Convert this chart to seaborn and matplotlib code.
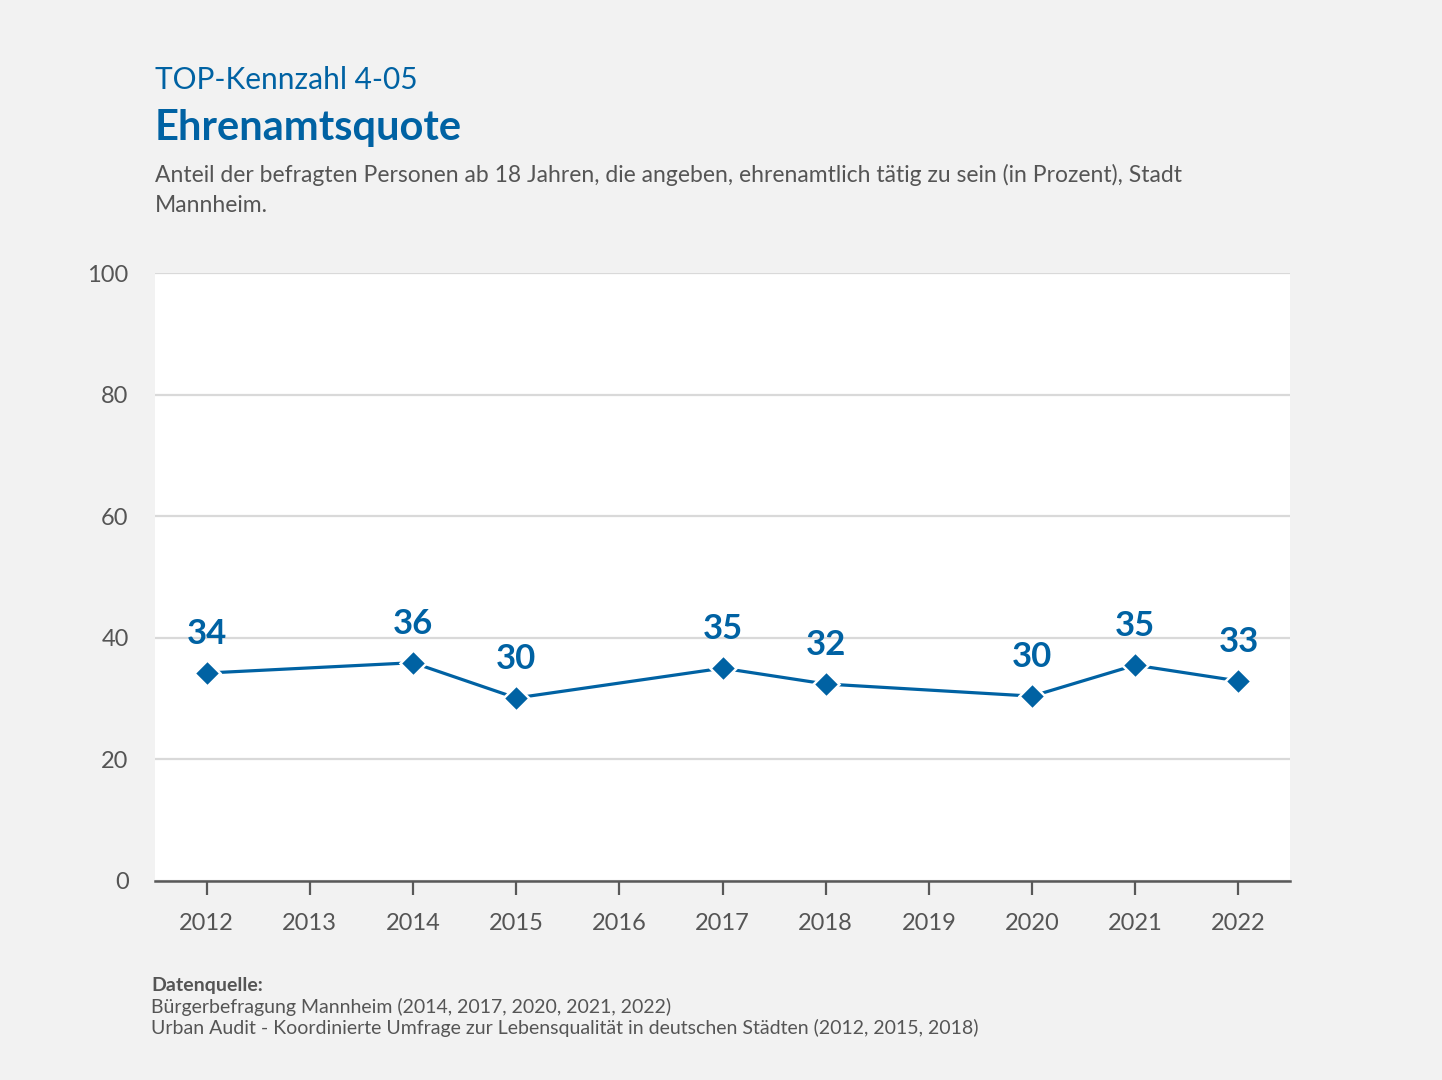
import matplotlib
matplotlib.use("Agg")
import matplotlib.pyplot as plt
import seaborn as sns
import pandas as pd

# data
years = [2012, 2014, 2015, 2017, 2018, 2020, 2021, 2022]
quote = [34.2, 35.9, 30.1, 35.0, 32.4, 30.4, 35.5, 32.9]
labels = ["34", "36", "30", "35", "32", "30", "35", "33"]
tick_years = list(range(2012, 2023))
y_ticks = [0, 20, 40, 60, 80, 100]

blue = "#0062a3"
grey_text = "#555555"
bg = "#f2f2f2"

sns.set_style("white")
plt.rcParams['font.family'] = ['Lato', 'DejaVu Sans']

df = pd.DataFrame({"Jahr": years, "Quote": quote})

fig = plt.figure(figsize=(14.42, 10.8), dpi=100, facecolor=bg)
ax = fig.add_axes([0.1075, 0.1843, 0.7871, 0.5629])
ax.set_facecolor("white")

sns.lineplot(data=df, x="Jahr", y="Quote", ax=ax, color=blue, linewidth=2.3,
             marker="D", markersize=13, markeredgecolor="white",
             markeredgewidth=1.8, zorder=3)

for x, y, t in zip(years, quote, labels):
    ax.annotate(t, (x, y), xytext=(0, 28), textcoords="offset points",
                ha="center", va="center", fontsize=25, fontweight="bold",
                color=blue, zorder=4)

ax.set_xlim(2011.5, 2022.5)
ax.set_ylim(0, 100)
ax.set_xticks(tick_years)
ax.set_xticklabels([str(y) for y in tick_years])
ax.set_yticks(y_ticks)
ax.set_xlabel("")
ax.set_ylabel("")

ax.yaxis.grid(True, color="#d9d9d9", linewidth=1.6)
ax.xaxis.grid(False)
for side in ["top", "right", "left"]:
    ax.spines[side].set_visible(False)
ax.spines["bottom"].set_color("#595959")
ax.spines["bottom"].set_linewidth(1.8)
ax.spines["bottom"].set_zorder(5)

ax.tick_params(axis="x", length=10, width=1.6, color="#595959", pad=13,
               labelsize=17, labelcolor=grey_text, bottom=True)
ax.tick_params(axis="y", length=0, pad=19, labelsize=17, labelcolor=grey_text)

# header
fig.text(155 / 1442, 1 - 80 / 1080, "TOP-Kennzahl 4-05", fontsize=21.5,
         color=blue, va="center", ha="left")
fig.text(155 / 1442, 1 - 128 / 1080, "Ehrenamtsquote", fontsize=30,
         fontweight="bold", color=blue, va="center", ha="left")
fig.text(155 / 1442, 1 - 175 / 1080,
         "Anteil der befragten Personen ab 18 Jahren, die angeben, ehrenamtlich tätig zu sein (in Prozent), Stadt",
         fontsize=16.5, color=grey_text, va="center", ha="left")
fig.text(155 / 1442, 1 - 205 / 1080, "Mannheim.",
         fontsize=16.5, color=grey_text, va="center", ha="left")

# footer
fig.text(151 / 1442, 1 - 986 / 1080, "Datenquelle:", fontsize=14,
         fontweight="bold", color=grey_text, va="center", ha="left")
fig.text(151 / 1442, 1 - 1007 / 1080,
         "Bürgerbefragung Mannheim (2014, 2017, 2020, 2021, 2022)",
         fontsize=14, color=grey_text, va="center", ha="left")
fig.text(151 / 1442, 1 - 1028 / 1080,
         "Urban Audit - Koordinierte Umfrage zur Lebensqualität in deutschen Städten (2012, 2015, 2018)",
         fontsize=14, color=grey_text, va="center", ha="left")

fig.savefig("out.png", dpi=100, facecolor=bg)
